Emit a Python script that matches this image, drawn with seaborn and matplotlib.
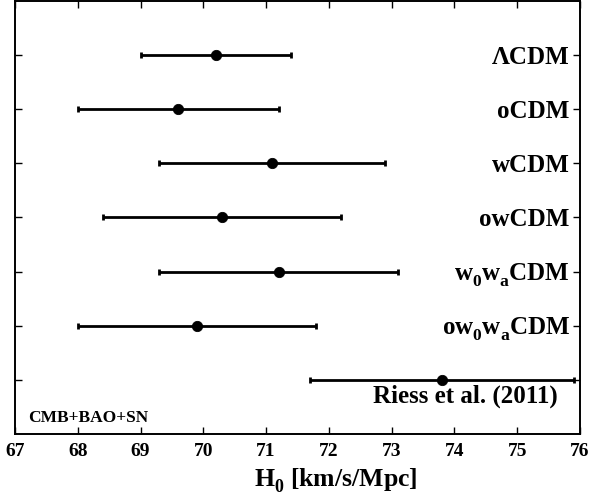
import numpy as np
import matplotlib
matplotlib.use("Agg")
import matplotlib.pyplot as plt
import matplotlib._mathtext as _mt
import seaborn as sns

models = ["ΛCDM", "oCDM", "wCDM", "owCDM",
          r"$\mathrm{w}_0\mathrm{w}_a$CDM", r"o$\mathrm{w}_0\mathrm{w}_a$CDM",
          "Riess et al. (2011)"]
h0 = np.array([70.2, 69.6, 71.1, 70.3, 71.2, 69.9, 73.8])
h0_lo = np.array([69.0, 68.0, 69.3, 68.4, 69.3, 68.0, 71.7])
h0_hi = np.array([71.4, 71.2, 72.9, 72.2, 73.1, 71.8, 75.9])
xticks = [67, 68, 69, 70, 71, 72, 73, 74, 75, 76]

sns.set_theme(style="ticks")
plt.rcParams["font.family"] = ["Liberation Serif", "DejaVu Serif"]
plt.rcParams["font.weight"] = "bold"
plt.rcParams["text.color"] = "black"
plt.rcParams["axes.labelcolor"] = "black"
plt.rcParams["xtick.color"] = "black"
plt.rcParams["ytick.color"] = "black"
plt.rcParams["mathtext.fontset"] = "custom"
plt.rcParams["mathtext.rm"] = "Liberation Serif:bold"
plt.rcParams["mathtext.it"] = "Liberation Serif:bold"
plt.rcParams["mathtext.bf"] = "Liberation Serif:bold"
try:
    _mt.FontConstantsBase.sub1 = 0.5
    _mt.FontConstantsBase.script_space = 0.03
except Exception:
    pass

fig = plt.figure(figsize=(5.91, 5.02), dpi=100)
ax = fig.add_axes([0.0254, 0.1335, 0.956, 0.8625])

pos = np.arange(1, len(models) + 1)
ax.errorbar(h0, pos, xerr=[h0 - h0_lo, h0_hi - h0], fmt="none", ecolor="black",
            elinewidth=2.0, capsize=2.3, capthick=2.0, zorder=2)
sns.scatterplot(x=h0, y=pos, color="black", edgecolor="black", s=55,
                ax=ax, zorder=3, legend=False)

ax.set_xlim(67, 76)
ax.set_ylim(8, 0)
ax.set_xticks(xticks)
ax.set_xticklabels([str(t) for t in xticks], fontsize=14, fontweight="bold")
ax.set_yticks(pos)
ax.set_yticklabels([])
ax.tick_params(axis="x", direction="in", top=True, bottom=True, length=5, width=1, pad=6)
ax.tick_params(axis="y", direction="in", left=True, right=True, length=5, width=1)
for sp in ax.spines.values():
    sp.set_linewidth(1.4)
    sp.set_color("black")

for i, lab in enumerate(models[:-1]):
    ax.text(0.982, pos[i] + 0.14, lab, transform=ax.get_yaxis_transform(),
            ha="right", va="baseline", fontsize=18, fontweight="bold")
ax.text(0.961, pos[-1] + 0.41, models[-1], transform=ax.get_yaxis_transform(),
        ha="right", va="baseline", fontsize=18, fontweight="bold")
ax.text(0.023, 7.76, "CMB+BAO+SN", transform=ax.get_yaxis_transform(),
        ha="left", va="baseline", fontsize=12.5, fontweight="bold")

ax.set_xlabel(r"$\mathrm{H}_0$ [km/s/Mpc]", fontsize=18.5, fontweight="bold")
ax.xaxis.set_label_coords(0.568, -0.072)
ax.set_ylabel("")

fig.savefig("out.png", dpi=100, facecolor="white")
